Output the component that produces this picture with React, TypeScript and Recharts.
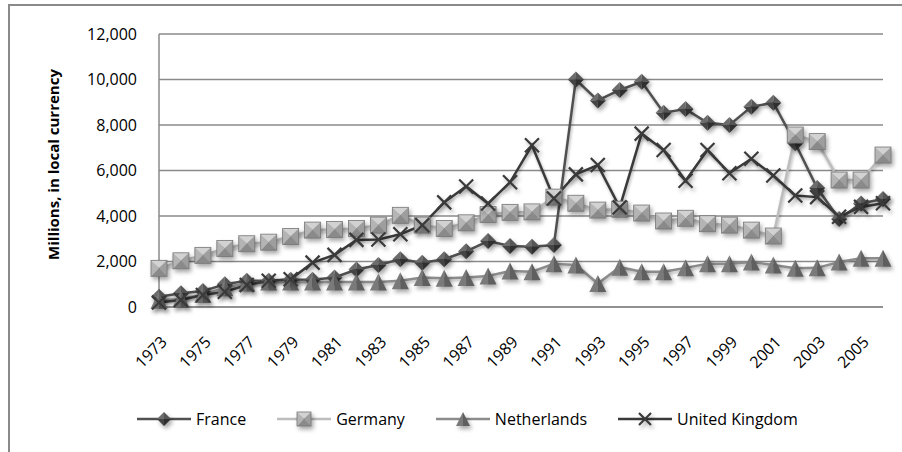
import React from 'react';
import { LineChart, Line, XAxis, YAxis, CartesianGrid, Legend } from 'recharts';

// Annual amounts, millions in local currency, 1973-2006
const years = [
  '1973', '1974', '1975', '1976', '1977', '1978', '1979', '1980', '1981', '1982',
  '1983', '1984', '1985', '1986', '1987', '1988', '1989', '1990', '1991', '1992',
  '1993', '1994', '1995', '1996', '1997', '1998', '1999', '2000', '2001', '2002',
  '2003', '2004', '2005', '2006',
];

const france = [
  450, 600, 700, 1000, 1150, 1150, 1200, 1200, 1300, 1650,
  1850, 2100, 1950, 2100, 2450, 2900, 2680, 2650, 2720, 10000,
  9080, 9540, 9900, 8540, 8700, 8100, 8000, 8800, 8980, 7200,
  5230, 3870, 4550, 4750,
];

const germany = [
  1700, 2030, 2270, 2570, 2780, 2850, 3100, 3380, 3410, 3450,
  3600, 4030, 3600, 3450, 3700, 4060, 4160, 4180, 4830, 4560,
  4260, 4300, 4130, 3780, 3900, 3660, 3600, 3380, 3120, 7560,
  7270, 5580, 5580, 6680,
];

const netherlands = [
  300, 350, 550, 850, 1050, 1100, 1100, 1100, 1100, 1100,
  1100, 1150, 1300, 1260, 1300, 1360, 1580, 1550, 1900, 1850,
  1030, 1750, 1550, 1550, 1720, 1900, 1900, 1980, 1850, 1700,
  1720, 1980, 2140, 2140,
];

const unitedKingdom = [
  200, 310, 530, 670, 970, 1150, 1220, 1950, 2290, 2950,
  2970, 3200, 3600, 4600, 5300, 4550, 5480, 7110, 4770, 5830,
  6240, 4380, 7620, 6900, 5550, 6900, 5880, 6520, 5780, 4900,
  4830, 3970, 4400, 4560,
];

const yTicks = [0, 2000, 4000, 6000, 8000, 10000, 12000];

const data = years.map((year, i) => ({
  year,
  France: france[i],
  Germany: germany[i],
  Netherlands: netherlands[i],
  'United Kingdom': unitedKingdom[i],
}));

const FONT = '"Open Sans", sans-serif';
const GRID = '#8a8a8a';
const SHADOW = { filter: 'drop-shadow(2px 3px 2px rgba(0,0,0,0.35))' };

const DiamondMark = ({ cx, cy, r = 8 }: any) => (
  <g style={SHADOW}>
    <polygon points={`${cx - r},${cy} ${cx},${cy - r} ${cx},${cy}`} fill="#6c6c6c" />
    <polygon points={`${cx},${cy - r} ${cx + r},${cy} ${cx},${cy}`} fill="#555" />
    <polygon points={`${cx + r},${cy} ${cx},${cy + r} ${cx},${cy}`} fill="#2f2f2f" />
    <polygon points={`${cx},${cy + r} ${cx - r},${cy} ${cx},${cy}`} fill="#444" />
  </g>
);

const SquareMark = ({ cx, cy, r = 8 }: any) => (
  <g style={SHADOW}>
    <polygon points={`${cx - r},${cy - r} ${cx + r},${cy - r} ${cx},${cy}`} fill="#d2d2d2" />
    <polygon points={`${cx + r},${cy - r} ${cx + r},${cy + r} ${cx},${cy}`} fill="#9e9e9e" />
    <polygon points={`${cx + r},${cy + r} ${cx - r},${cy + r} ${cx},${cy}`} fill="#8a8a8a" />
    <polygon points={`${cx - r},${cy + r} ${cx - r},${cy - r} ${cx},${cy}`} fill="#b4b4b4" />
    <rect x={cx - r} y={cy - r} width={2 * r} height={2 * r} fill="none" stroke="#777" strokeWidth={0.8} />
  </g>
);

const TriangleMark = ({ cx, cy, r = 8.5 }: any) => (
  <g style={SHADOW}>
    <polygon points={`${cx},${cy - r} ${cx},${cy + r} ${cx - r},${cy + r}`} fill="#7a7a7a" />
    <polygon points={`${cx},${cy - r} ${cx + r},${cy + r} ${cx},${cy + r}`} fill="#5f5f5f" />
  </g>
);

const CrossMark = ({ cx, cy, r = 7 }: any) => (
  <g style={SHADOW} stroke="#3a3a3a" strokeWidth={2.2}>
    <line x1={cx - r} y1={cy - r} x2={cx + r} y2={cy + r} />
    <line x1={cx - r} y1={cy + r} x2={cx + r} y2={cy - r} />
  </g>
);

const seriesList = [
  { key: 'France', color: '#505050', Mark: DiamondMark },
  { key: 'Germany', color: '#bdbdbd', Mark: SquareMark },
  { key: 'Netherlands', color: '#8c8c8c', Mark: TriangleMark },
  { key: 'United Kingdom', color: '#3a3a3a', Mark: CrossMark },
];

const YearTick = ({ x, y, payload }: any) => (
  <text
    transform={`translate(${x + 9},${y + 36}) rotate(-45)`}
    textAnchor="end"
    fontSize={16}
    fontFamily={FONT}
    fill="#000"
  >
    {payload.value}
  </text>
);

const AxisTitle = ({ viewBox }: any) => {
  const x = viewBox.x + 59;
  const y = viewBox.y + viewBox.height / 2 - 6;
  return (
    <text
      x={x}
      y={y}
      transform={`rotate(-90, ${x}, ${y})`}
      textAnchor="middle"
      fontSize={15}
      fontWeight="bold"
      fontFamily={FONT}
      fill="#000"
    >
      Millions, in local currency
    </text>
  );
};

const LegendContent = () => (
  <div style={{ display: 'flex', paddingLeft: 137, gap: 31, fontFamily: FONT, fontSize: 16, color: '#000' }}>
    {seriesList.map(({ key, color, Mark }) => (
      <div key={key} style={{ display: 'flex', alignItems: 'center' }}>
        <svg width={54} height={20} style={{ overflow: 'visible' }}>
          <line x1={0} y1={10} x2={54} y2={10} stroke={color} strokeWidth={2.5} />
          <Mark cx={27} cy={10} r={key === 'United Kingdom' ? 6 : 7} />
        </svg>
        <span style={{ marginLeft: 5 }}>{key}</span>
      </div>
    ))}
  </div>
);

export default function App() {
  return (
    <div style={{ position: 'absolute', left: 0, top: 0, width: 902, height: 452, background: '#fff', overflow: 'hidden' }}>
      <style>{`.recharts-line-curve { filter: drop-shadow(1px 2px 1.5px rgba(0,0,0,0.3)); }`}</style>
      <div
        style={{
          position: 'absolute', left: 8, top: 4, width: 902, height: 460,
          borderTop: `2px solid ${GRID}`, borderLeft: `2px solid ${GRID}`,
        }}
      />
      <div style={{ position: 'absolute', left: 0, top: 0 }}>
        <LineChart width={902} height={452} data={data} margin={{ top: 34, right: 19, bottom: 0, left: 0 }}>
          <CartesianGrid horizontal vertical={false} stroke={GRID} strokeWidth={1.5} />
          <XAxis
            dataKey="year"
            interval={1}
            height={145}
            axisLine={{ stroke: GRID, strokeWidth: 1.5 }}
            tickLine={false}
            tickSize={0}
            tickMargin={0}
            tick={<YearTick />}
          />
          <YAxis
            width={159}
            domain={[0, 12000]}
            ticks={yTicks}
            axisLine={{ stroke: GRID, strokeWidth: 1.5 }}
            tickLine={false}
            tickSize={0}
            tickMargin={22}
            tick={{ fontSize: 16, fontFamily: FONT, fill: '#000' }}
            tickFormatter={(v: number) => v.toLocaleString('en-US')}
            label={{ content: <AxisTitle /> }}
          />
          <Legend
            layout="horizontal"
            verticalAlign="middle"
            align="center"
            wrapperStyle={{ top: 408, left: 0, width: 902 }}
            content={<LegendContent />}
          />
          {seriesList.map(({ key, color, Mark }) => (
            <Line
              key={key}
              type="linear"
              dataKey={key}
              stroke={color}
              strokeWidth={2.5}
              dot={(p: any) => <Mark key={`${key}-${p.index}`} cx={p.cx} cy={p.cy} />}
              activeDot={false}
              isAnimationActive={false}
            />
          ))}
        </LineChart>
      </div>
    </div>
  );
}
